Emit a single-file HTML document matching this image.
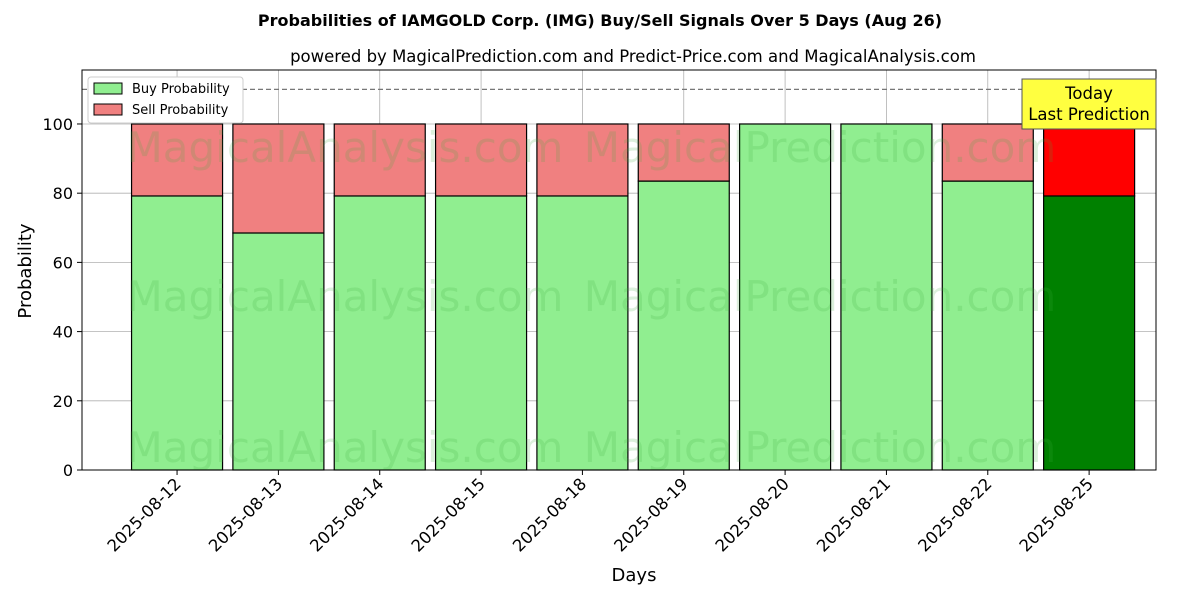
<!DOCTYPE html>
<html><head><meta charset="utf-8"><style>
body{margin:0;background:#fff;font-family:"DejaVu Sans","Liberation Sans",sans-serif}
</style></head><body>
<svg id="chart" width="1200" height="600" xmlns="http://www.w3.org/2000/svg" font-family="DejaVu Sans, Liberation Sans, sans-serif">
<rect width="1200" height="600" fill="#fff"/>
<text x="600" y="26" text-anchor="middle" font-size="16" font-weight="bold">Probabilities of IAMGOLD Corp. (IMG) Buy/Sell Signals Over 5 Days (Aug 26)</text>
<text x="633" y="62" text-anchor="middle" font-size="16.5">powered by MagicalPrediction.com and Predict-Price.com and MagicalAnalysis.com</text>
<g id="grid"></g><g id="bars"></g><g id="wm"></g><g id="axes"></g>
<text transform="translate(31,271) rotate(-90)" text-anchor="middle" font-size="18">Probability</text>
<text x="634" y="581" text-anchor="middle" font-size="18">Days</text>
<g>
<rect x="88" y="77" width="155" height="46" fill="#fff" stroke="#ccc" rx="3"/>
<rect x="94" y="83" width="28" height="11" fill="#90ee90" stroke="#000"/>
<text x="132" y="93" font-size="13">Buy Probability</text>
<rect x="94" y="104" width="28" height="11" fill="#f08080" stroke="#000"/>
<text x="132" y="114" font-size="13">Sell Probability</text>
</g>
</svg>
<script>
const categories=["2025-08-12","2025-08-13","2025-08-14","2025-08-15","2025-08-18","2025-08-19","2025-08-20","2025-08-21","2025-08-22","2025-08-25"];
const buyValues=[79.2,68.5,79.2,79.2,79.2,83.5,100,100,83.5,79.2];
const sellValues=[20.8,31.5,20.8,20.8,20.8,16.5,0,0,16.5,20.8];
const yTicks=[0,20,40,60,80,100];
const thresholdValue=110;
const NS="http://www.w3.org/2000/svg";
const L=82,R=1156,T=70,B=470,yMax=115.6,xMin=-0.938,xMax=9.66;
const xs=i=>L+(i-xMin)/(xMax-xMin)*(R-L);
const ys=v=>B-v/yMax*(B-T);
const bw=91;
function mk(p,tag,a,txt){const e=document.createElementNS(NS,tag);for(const k in a)e.setAttribute(k,a[k]);if(txt!==undefined)e.textContent=txt;document.getElementById(p).appendChild(e);return e;}
yTicks.forEach(v=>{
 const g=mk('grid','line',{x1:L,x2:R,y1:ys(v),y2:ys(v),stroke:'#b0b0b0','stroke-width':0.8});
 
 mk('axes','line',{x1:L-5,x2:L,y1:ys(v),y2:ys(v),stroke:'#000'});
 const t=mk('axes','text',{x:L-9,y:ys(v)+6,'text-anchor':'end','font-size':16},v);
 
});
categories.forEach((c,i)=>{
 const x=xs(i);
 const g=mk('grid','line',{x1:x,x2:x,y1:T,y2:B,stroke:'#b0b0b0','stroke-width':0.8});
 
 const last=i===categories.length-1;
 const b=mk('bars','rect',{x:x-bw/2,y:ys(buyValues[i]),width:bw,height:ys(0)-ys(buyValues[i]),fill:last?'#008000':'#90ee90',stroke:'#000','stroke-width':1.2});
 
 const s=mk('bars','rect',{x:x-bw/2,y:ys(buyValues[i]+sellValues[i]),width:bw,height:ys(buyValues[i])-ys(buyValues[i]+sellValues[i]),fill:last?'#ff0000':'#f08080',stroke:'#000','stroke-width':1.2});
 
 mk('axes','line',{x1:x,x2:x,y1:B,y2:B+5,stroke:'#000'});
 const t=mk('axes','text',{x:x+5,y:B+15,'text-anchor':'end','font-size':16.5,transform:`rotate(-45 ${x+5} ${B+15})`},c);
 
});
const th=mk('axes','line',{x1:L,x2:R,y1:ys(thresholdValue),y2:ys(thresholdValue),stroke:'#777','stroke-dasharray':'5,3','stroke-width':1.2});

const fr=mk('axes','rect',{x:L,y:T,width:R-L,height:B-T,fill:'none',stroke:'#000','stroke-width':1});

[[345,162,'MagicalAnalysis.com'],[820,162,'MagicalPrediction.com'],[345,311,'MagicalAnalysis.com'],[820,311,'MagicalPrediction.com'],[345,462,'MagicalAnalysis.com'],[820,462,'MagicalPrediction.com']].forEach(w=>{
 const t=mk('wm','text',{x:w[0],y:w[1],'text-anchor':'middle','font-size':42,fill:'rgba(60,170,60,0.18)'},w[2]);
 
});
const x9=xs(categories.length-1);
const ab=mk('axes','rect',{x:1022,y:79,width:134,height:50,fill:'#ffff40',stroke:'#555'});

const a1=mk('axes','text',{x:1089,y:99,'text-anchor':'middle','font-size':16.5},'Today');

const a2=mk('axes','text',{x:1089,y:120,'text-anchor':'middle','font-size':16.5},'Last Prediction');

</script>
</body></html>
